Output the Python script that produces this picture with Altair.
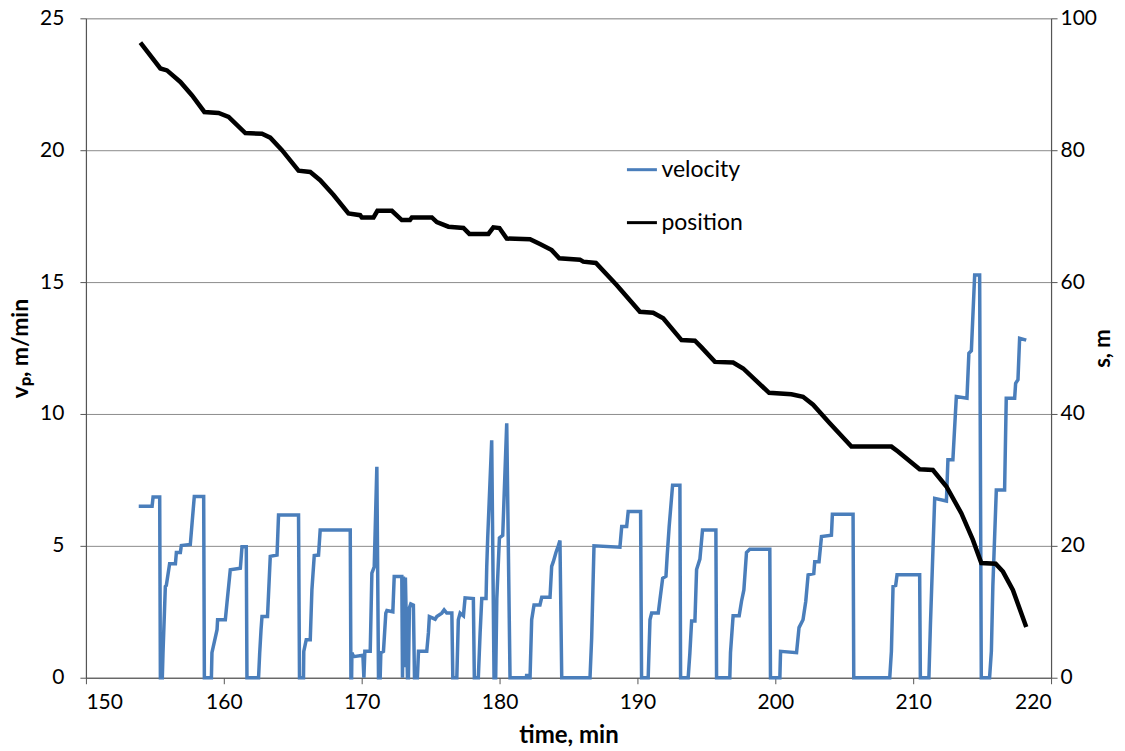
import altair as alt
import pandas as pd

# ---- data ----
vel_time = [153.83, 154.80, 154.87, 155.35, 155.40, 155.54, 155.59, 155.76, 155.83, 156.07,
            156.49, 156.56, 156.85, 156.92, 157.57, 157.70, 157.86, 158.54, 158.59, 159.10,
            159.14, 159.51, 159.55, 160.11, 160.23, 160.47, 161.20, 161.32, 161.63, 161.68,
            162.52, 162.60, 162.70, 162.77, 163.17, 163.37, 163.86, 163.97, 165.42, 165.49,
            165.78, 165.80, 165.98, 166.27, 166.39, 166.56, 166.87, 166.99, 169.17, 169.22,
            169.27, 169.29, 169.41, 170.09, 170.16, 170.23, 170.62, 170.74, 170.91, 171.10,
            171.22, 171.34, 171.39, 171.58, 171.75, 171.83, 172.26, 172.36, 172.91, 172.96,
            173.03, 173.10, 173.17, 173.32, 173.39, 173.46, 173.56, 173.75, 173.83, 174.04,
            174.12, 174.72, 174.84, 174.91, 175.33, 175.45, 175.81, 175.98, 176.17, 176.54,
            176.61, 176.90, 177.01, 177.14, 177.38, 177.50, 178.10, 178.17, 178.46, 178.59,
            178.71, 179.02, 179.07, 179.14, 179.43, 179.60, 179.72, 179.80, 179.99, 180.23,
            180.52, 180.76, 181.95, 181.97, 182.00, 182.21, 182.33, 182.50, 182.93, 183.06,
            183.66, 183.78, 183.90, 184.09, 184.26, 184.38, 184.51, 186.56, 186.68, 186.85,
            188.73, 188.86, 189.22, 189.33, 190.23, 190.30, 190.78, 190.91, 191.03, 191.51,
            191.63, 191.83, 192.07, 192.16, 192.30, 192.55, 193.08, 193.13, 193.68, 193.80,
            193.93, 194.17, 194.29, 194.53, 194.72, 195.69, 195.74, 196.70, 196.75, 196.94,
            197.38, 197.55, 197.72, 197.91, 198.15, 199.60, 199.65, 200.33, 200.38, 201.54,
            201.72, 202.01, 202.21, 202.38, 202.79, 202.86, 203.17, 203.35, 204.07, 204.14,
            205.64, 205.69, 208.30, 208.42, 208.54, 208.73, 208.83, 210.47, 210.52, 211.14,
            211.25, 211.56, 212.41, 212.52, 212.88, 213.13, 213.90, 214.04, 214.22, 214.46,
            214.82, 214.94, 215.54, 215.67, 215.78, 216.03, 216.63, 216.75, 217.36, 217.43,
            217.60, 217.72, 218.20]
vel_value = [6.5, 6.5, 6.85, 6.85, 0, 0, 0.95, 3.46, 3.5, 4.32,
             4.32, 4.75, 4.75, 5.01, 5.05, 5.87, 6.87, 6.87, 0, 0,
             0.95, 1.82, 2.2, 2.2, 2.84, 4.09, 4.15, 4.97, 4.97, 0,
             0, 0.9, 1.82, 2.32, 2.32, 4.6, 4.65, 6.17, 6.17, 0,
             0, 1.0, 1.44, 1.44, 3.33, 4.63, 4.65, 5.6, 5.6, 0,
             0, 0.95, 0.8, 0.85, 0, 1.0, 1.0, 3.97, 4.2, 8.0,
             0, 0, 0.95, 1.0, 2.45, 2.55, 2.5, 3.84, 3.84, 0,
             3.84, 0.4, 3.8, 0, 0, 2.65, 2.8, 2.75, 0, 0,
             1.0, 1.0, 1.7, 2.32, 2.22, 2.32, 2.45, 2.57, 2.45, 2.45,
             0, 0, 2.2, 2.45, 2.35, 3.03, 3.0, 0, 0, 1.7,
             3.0, 3.0, 4.2, 5.3, 9.0, 0, 0, 3.0, 5.3, 5.4,
             9.65, 0, 0, 0.15, 0, 0, 2.2, 2.76, 2.76, 3.05,
             3.05, 4.22, 4.4, 4.75, 5.0, 5.2, 0, 0, 1.5, 5.0,
             4.95, 5.73, 5.73, 6.3, 6.3, 0, 0, 2.2, 2.45, 2.45,
             2.95, 3.77, 3.85, 4.65, 5.72, 7.3, 7.3, 0, 0, 0.9,
             2.15, 2.15, 4.1, 4.5, 5.6, 5.6, 0, 0, 0.95, 2.35,
             2.35, 2.9, 3.33, 4.75, 4.87, 4.87, 0, 0, 1.0, 0.95,
             1.9, 2.2, 2.9, 3.9, 3.95, 4.4, 4.4, 5.35, 5.4, 6.2,
             6.2, 0, 0, 1.0, 3.46, 3.5, 3.9, 3.9, 0, 0,
             2.0, 6.8, 6.7, 8.26, 8.26, 10.66, 10.6, 12.3, 12.4, 15.27,
             15.27, 0, 0, 1.0, 3.5, 7.12, 7.12, 10.6, 10.6, 11.16,
             11.3, 12.87, 12.8]

pos_time = [153.95, 155.40, 155.88, 156.85, 157.70, 158.59, 159.62, 160.35, 161.56, 162.77,
            163.37, 164.22, 165.42, 166.27, 166.99, 167.96, 169.04, 169.89, 170.01, 170.86,
            171.14, 172.19, 172.91, 173.50, 173.64, 175.09, 175.45, 176.29, 177.38, 177.81,
            179.19, 179.55, 179.99, 180.52, 182.21, 182.93, 183.78, 184.33, 185.83, 186.07,
            186.99, 188.49, 190.18, 191.14, 191.87, 193.20, 194.17, 194.65, 195.62, 196.94,
            197.67, 199.55, 201.17, 202.01, 202.74, 203.95, 205.52, 208.42, 208.90, 210.47,
            211.43, 212.41, 213.49, 214.33, 214.94, 215.98, 216.51, 217.23, 218.20]
pos_value = [96.3, 92.4, 92.1, 90.35, 88.3, 85.8, 85.65, 85.05, 82.6, 82.5,
             81.9, 80.0, 76.9, 76.7, 75.45, 73.2, 70.4, 70.15, 69.8, 69.8,
             70.8, 70.8, 69.4, 69.4, 69.8, 69.8, 69.1, 68.4, 68.2, 67.3,
             67.3, 68.3, 68.2, 66.6, 66.5, 65.76, 64.85, 63.6, 63.4, 63.1,
             62.9, 59.55, 55.5, 55.35, 54.5, 51.2, 51.1, 50.1, 47.9, 47.8,
             46.9, 43.2, 43.0, 42.6, 41.4, 38.6, 35.05, 35.05, 34.3, 31.6,
             31.5, 29.0, 24.95, 20.9, 17.4, 17.3, 16.1, 13.3, 7.7]

series_names = ["velocity", "position"]
series_colors = ["#4a7ebb", "#000000"]
x_ticks = [150, 160, 170, 180, 190, 200, 210, 220]
v_ticks = [0, 5, 10, 15, 20, 25]
s_ticks = [0, 20, 40, 60, 80, 100]

vel_df = pd.DataFrame({"time": vel_time, "value": vel_value, "series": "velocity"})
pos_df = pd.DataFrame({"time": pos_time, "value": pos_value, "series": "position"})

FONT = "Lato"
AXIS_COLOR = "#555555"
LABEL_SIZE = 21
TITLE_SIZE = 23

color_scale = alt.Scale(domain=series_names, range=series_colors)
legend = alt.Legend(
    title=None, orient="none", legendX=540, legendY=135, padding=0,
    symbolType="stroke", symbolSize=900, symbolStrokeWidth=3,
    labelFont=FONT, labelFontSize=23, labelColor="#000000", labelOffset=3,
    rowPadding=24, direction="vertical",
)

x_enc = alt.X(
    "time:Q",
    scale=alt.Scale(domain=[150, 220], nice=False, zero=False),
    axis=alt.Axis(
        title="time, min", values=x_ticks, grid=False, format="d",
        labelFont=FONT, labelFontSize=LABEL_SIZE, labelColor="#000000", labelPadding=8,
        tickSize=6, tickColor=AXIS_COLOR, domainColor=AXIS_COLOR, domainWidth=1.2,
        titleFont=FONT, titleFontSize=24, titleFontWeight="bold", titleColor="#000000",
        titlePadding=11,
    ),
)

vel_layer = alt.Chart(vel_df).mark_line(strokeWidth=3.5, strokeJoin="miter").encode(
    x=x_enc,
    y=alt.Y(
        "value:Q",
        scale=alt.Scale(domain=[0, 25], nice=False),
        axis=alt.Axis(
            title="vₚ, m/min", values=v_ticks, grid=True, gridColor="#8c8c8c", gridWidth=1,
            labelFont=FONT, labelFontSize=LABEL_SIZE, labelColor="#000000", labelPadding=16,
            tickSize=6, tickColor=AXIS_COLOR, domainColor=AXIS_COLOR, domainWidth=1.2,
            titleFont=FONT, titleFontSize=TITLE_SIZE, titleFontWeight="bold", titleColor="#000000",
            titlePadding=7,
        ),
    ),
    color=alt.Color("series:N", scale=color_scale, legend=legend),
    order=alt.Order("time:Q"),
)

pos_layer = alt.Chart(pos_df).mark_line(strokeWidth=4.5, strokeJoin="miter").encode(
    x=x_enc,
    y=alt.Y(
        "value:Q",
        scale=alt.Scale(domain=[0, 100], nice=False),
        axis=alt.Axis(
            orient="right", title="s, m", values=s_ticks, grid=False,
            labelFont=FONT, labelFontSize=LABEL_SIZE, labelColor="#000000", labelPadding=3,
            tickSize=6, tickColor=AXIS_COLOR, domainColor=AXIS_COLOR, domainWidth=1.2,
            titleFont=FONT, titleFontSize=22, titleFontWeight="bold", titleColor="#000000",
            titlePadding=6, titleAngle=270, titleBaseline="middle",
        ),
    ),
    color=alt.Color("series:N", scale=color_scale, legend=legend),
    order=alt.Order("time:Q"),
)

chart = (
    alt.layer(vel_layer, pos_layer)
    .resolve_scale(y="independent")
    .properties(
        width=966, height=660,
        autosize=alt.AutoSizeParams(type="none"),
        padding={"left": 78, "top": 10, "right": 66, "bottom": 70},
    )
    .configure_view(stroke=None)
    .configure(background="white")
)

chart.save("out.html", embed_options={"renderer": "svg", "actions": False})
